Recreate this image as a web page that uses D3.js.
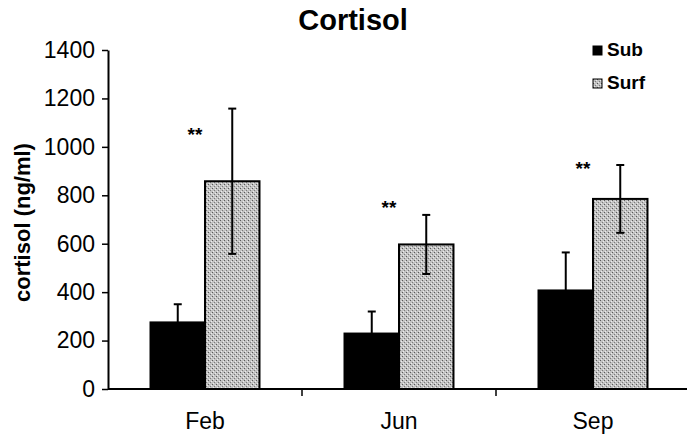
<!DOCTYPE html>
<html>
<head>
<meta charset="utf-8">
<script src="https://cdn.jsdelivr.net/npm/d3@7"></script>
<style>
  html, body { margin: 0; padding: 0; background: #fff; }
  svg { display: block; }
</style>
</head>
<body>
<svg id="chart" width="687" height="439"></svg>
<script>
// ---- data ----
const months = ["Feb", "Jun", "Sep"];
const seriesNames = ["Sub", "Surf"];
const subMeans = [275, 229, 407];
const subErrors = [75, 91, 157];
const surfMeans = [858, 597, 785];
const surfErrors = [300, 122, 140];
const sigLabels = ["**", "**", "**"];
const sigLevels = [1060, 760, 920];
const yTickValues = [0, 200, 400, 600, 800, 1000, 1200, 1400];
const titleText = "Cortisol";
const yLabelText = "cortisol (ng/ml)";

// ---- layout ----
const svg = d3.select("#chart");
const font = "'Liberation Sans', Arial, Helvetica, sans-serif";
const mLeft = 108, mRight = 690, mTop = 50, mBottom = 389;

const y = d3.scaleLinear().domain([0, 1400]).range([mBottom, mTop]);
const x0 = d3.scaleBand().domain(months).range([mLeft, mRight]).padding(0);
const x1 = d3.scaleBand().domain(seriesNames).range([0, x0.bandwidth()])
  .paddingInner(0).paddingOuter(0.78);

// stipple pattern for Surf
const defs = svg.append("defs");
const pat = defs.append("pattern").attr("id", "stipple")
  .attr("patternUnits", "userSpaceOnUse").attr("width", 4).attr("height", 4);
pat.append("rect").attr("width", 4).attr("height", 4).attr("fill", "#c2c2c2");
pat.append("rect").attr("x", 0).attr("y", 0).attr("width", 1).attr("height", 1).attr("fill", "#5a5a5a");
pat.append("rect").attr("x", 2).attr("y", 2).attr("width", 1).attr("height", 1).attr("fill", "#7a7a7a");
pat.append("rect").attr("x", 3).attr("y", 1).attr("width", 1).attr("height", 1).attr("fill", "#ececec");
pat.append("rect").attr("x", 1).attr("y", 3).attr("width", 1).attr("height", 1).attr("fill", "#ececec");

const fills = { Sub: "#000000", Surf: "url(#stipple)" };

const rows = months.map((m, i) => ({
  month: m,
  values: [
    { key: "Sub", mean: subMeans[i], err: subErrors[i] },
    { key: "Surf", mean: surfMeans[i], err: surfErrors[i] }
  ],
  sig: sigLabels[i],
  sigY: sigLevels[i]
}));

// bars
const groups = svg.append("g").selectAll("g").data(rows).join("g")
  .attr("transform", d => `translate(${x0(d.month)},0)`);

groups.selectAll("rect").data(d => d.values).join("rect")
  .attr("x", d => x1(d.key))
  .attr("y", d => y(d.mean))
  .attr("width", x1.bandwidth())
  .attr("height", d => y(0) - y(d.mean))
  .attr("fill", d => fills[d.key])
  .attr("stroke", "#000")
  .attr("stroke-width", 2);

// error bars
const eb = groups.selectAll("g.err").data(d => d.values).join("g").attr("class", "err")
  .attr("stroke", "#000").attr("stroke-width", 2);
eb.append("line")
  .attr("x1", d => x1(d.key) + x1.bandwidth() / 2)
  .attr("x2", d => x1(d.key) + x1.bandwidth() / 2)
  .attr("y1", d => y(d.mean - d.err))
  .attr("y2", d => y(d.mean + d.err));
eb.append("line")
  .attr("x1", d => x1(d.key) + x1.bandwidth() / 2 - 4)
  .attr("x2", d => x1(d.key) + x1.bandwidth() / 2 + 4)
  .attr("y1", d => y(d.mean + d.err))
  .attr("y2", d => y(d.mean + d.err));
eb.append("line")
  .attr("x1", d => x1(d.key) + x1.bandwidth() / 2 - 4)
  .attr("x2", d => x1(d.key) + x1.bandwidth() / 2 + 4)
  .attr("y1", d => y(d.mean - d.err))
  .attr("y2", d => y(d.mean - d.err));

// significance markers
groups.append("text")
  .attr("x", x0.bandwidth() / 2 - 10)
  .attr("y", d => y(d.sigY) + 9)
  .attr("text-anchor", "middle")
  .attr("font-family", font).attr("font-weight", "bold").attr("font-size", 19)
  .text(d => d.sig);

// y axis
const yAxis = svg.append("g").attr("transform", `translate(${mLeft},0)`)
  .call(d3.axisLeft(y).tickValues(yTickValues).tickFormat(d3.format("d"))
    .tickSize(6).tickSizeOuter(0).tickPadding(7));
yAxis.select(".domain").attr("stroke-width", 2);
yAxis.selectAll(".tick line").attr("stroke-width", 1.5);
yAxis.selectAll("text").attr("font-family", font).attr("font-size", 23).attr("fill", "#000");

// x axis
const xAxis = svg.append("g").attr("transform", `translate(0,${mBottom})`)
  .call(d3.axisBottom(x0).tickSize(0).tickPadding(24));
xAxis.select(".domain").attr("stroke-width", 2).attr("d", `M${mLeft},0H${mRight}`);
xAxis.selectAll("text").attr("font-family", font).attr("font-size", 23).attr("fill", "#000");
xAxis.selectAll("line.bound").data(months.slice(1)).join("line").attr("class", "bound")
  .attr("x1", d => x0(d)).attr("x2", d => x0(d))
  .attr("y1", 0).attr("y2", 7)
  .attr("stroke", "#000").attr("stroke-width", 1.5);

// title
svg.append("text")
  .attr("x", 353).attr("y", 30)
  .attr("text-anchor", "middle")
  .attr("font-family", font).attr("font-weight", "bold").attr("font-size", 29)
  .text(titleText);

// y label
svg.append("text")
  .attr("transform", `translate(30,${(mTop + mBottom) / 2 + 3}) rotate(-90)`)
  .attr("text-anchor", "middle")
  .attr("font-family", font).attr("font-weight", "bold").attr("font-size", 22)
  .text(yLabelText);

// legend
const legend = svg.append("g").attr("transform", "translate(593,46)");
const li = legend.selectAll("g").data(seriesNames).join("g")
  .attr("transform", (d, i) => `translate(0,${i * 33})`);
li.append("rect").attr("width", 9).attr("height", 9)
  .attr("fill", d => fills[d]).attr("stroke", "#000").attr("stroke-width", 1);
li.append("text").attr("x", 14).attr("y", 10)
  .attr("font-family", font).attr("font-weight", "bold").attr("font-size", 19)
  .text(d => d);
</script>
</body>
</html>
